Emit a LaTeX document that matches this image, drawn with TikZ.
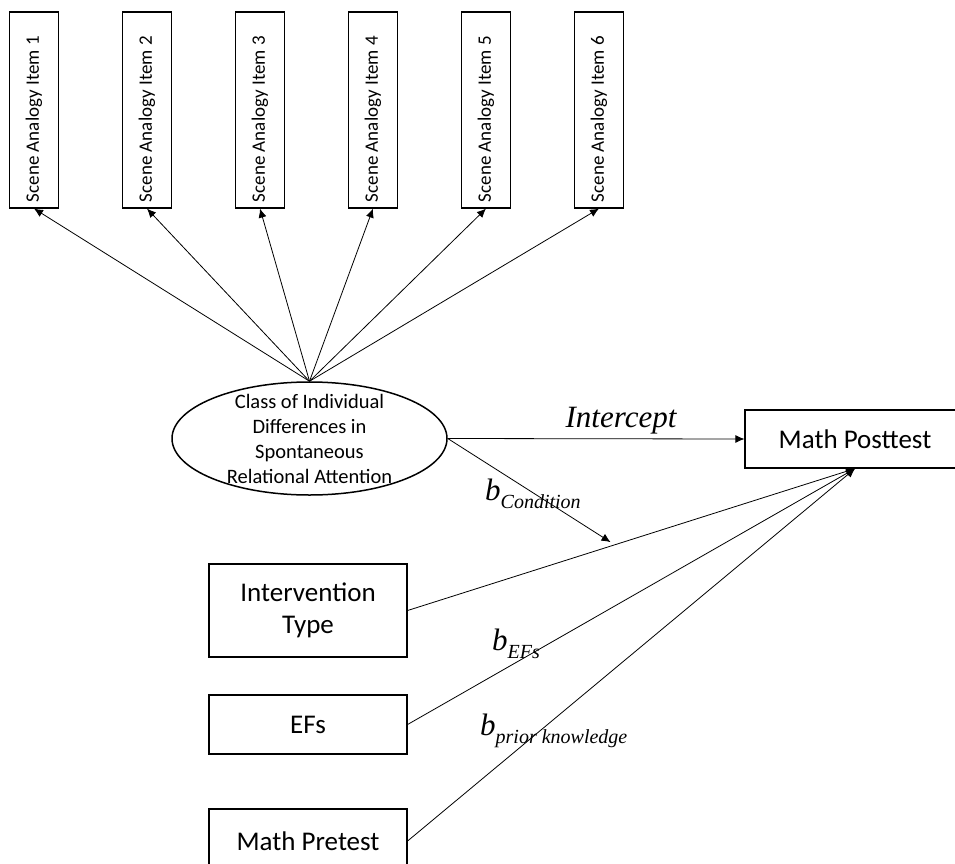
\documentclass[tikz,border=0pt]{standalone}
\usepackage{fontspec}
\setmainfont{Carlito}
\newfontfamily\coeffont{Liberation Serif}
\usetikzlibrary{shapes.geometric,calc,arrows.meta}
\newcommand{\coef}[1]{{\coeffont\itshape\fontsize{31}{31}\selectfont b\raisebox{-8pt}{\fontsize{20}{20}\selectfont #1}}}
\begin{document}
\begin{tikzpicture}[x=1pt,y=-1pt,
    item/.style={draw,line width=1.2pt,rotate=90,minimum height=49pt,text width=184pt,inner xsep=6pt,inner ysep=0pt,align=flush left,font=\fontsize{19}{19}\selectfont},
    obs/.style={draw,line width=1.2pt,align=center,inner sep=0pt,font=\fontsize{27}{32}\selectfont},
    link/.style={-{Latex[length=9pt,width=8pt]},line width=0.8pt},
    coefl/.style={anchor=base west,inner sep=0pt}]
    \useasboundingbox (0,0) rectangle (955,864);
    % indicators
    \foreach \i in {1,...,6} \node[item] (s\i) at ({34+113*(\i-1)},110) {Scene Analogy Item \i};
    % latent class
    \node[draw,ellipse,line width=1.5pt,minimum width=275pt,minimum height=113pt,inner sep=0pt] (latent) at (309.5,438.5) {};
    \node[align=center,inner sep=0pt,font=\fontsize{20.5}{25}\selectfont] (latentlbl) at (latent.center) {Class of Individual\\Differences in\\Spontaneous\\Relational Attention};
    % observed
    \node[obs,minimum width=220pt,minimum height=58pt] (post) at (855,439) {Math Posttest};
    \node[obs,minimum width=198pt,minimum height=93pt] (it) at (308,610.5) {Intervention\\Type};
    \node[obs,minimum width=198pt,minimum height=59pt] (ef) at (308,724.5) {EFs};
    \node[obs,minimum width=198pt,minimum height=64pt] (pre) at (308,841) {Math Pretest};
    \foreach \i in {1,...,6} \draw[link] (latent.north) -- (s\i.west);
    \draw[link] (latent.east) -- (post.west);
    \coordinate (mod) at ($(it.east)!0.463!(post.south)$);
    \draw[link,shorten >=5pt] (latent.east) -- (mod);
    \draw[link] (it.east) -- (post.south);
    \draw[link] (ef.east) -- (post.south);
    \draw[link] (pre.east) -- (post.south);
    % labels
    \node[anchor=base,inner sep=0pt] (icpt) at (621,427) {\coeffont\itshape\fontsize{31}{31}\selectfont Intercept};
    \node[coefl] (bcond) at (485,500) {\coef{Condition}};
    \node[coefl] (befs) at (492,650) {\coef{EFs}};
    \node[coefl] (bprior) at (480,735) {\coef{prior knowledge}};
\end{tikzpicture}
\end{document}
